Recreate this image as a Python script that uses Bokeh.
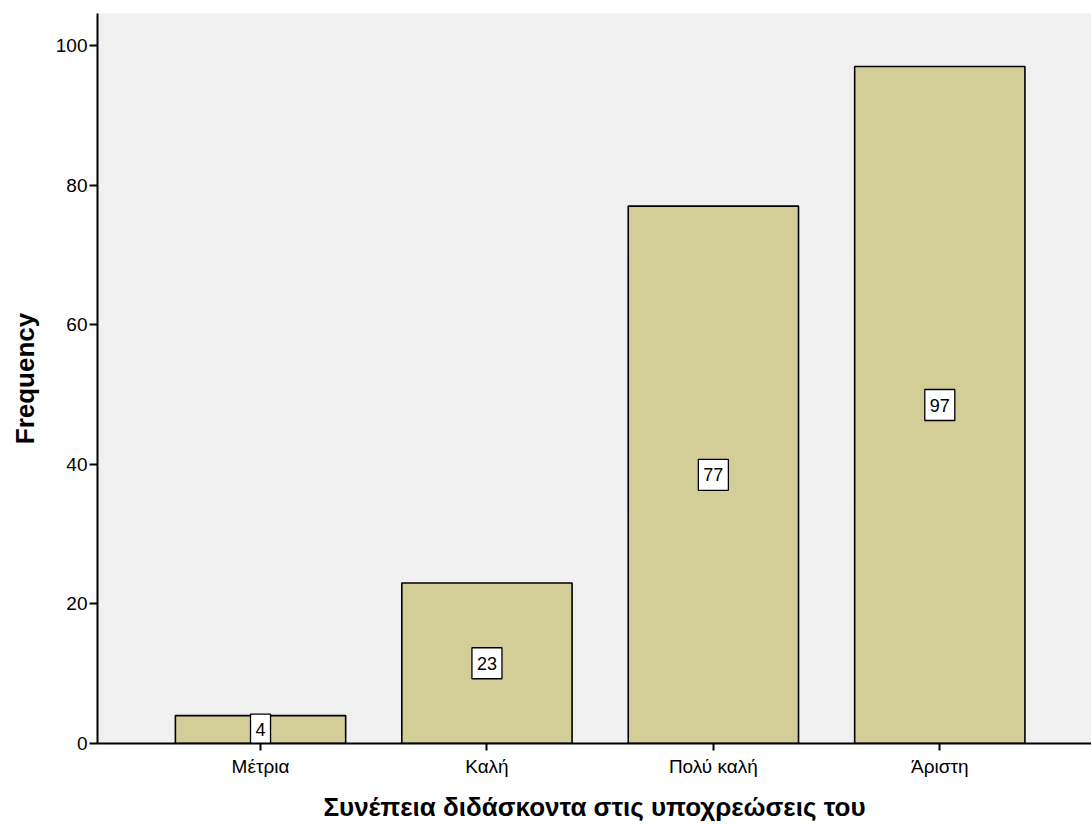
from bokeh.plotting import figure
from bokeh.models import ColumnDataSource, FixedTicker, Range1d
from bokeh.core.properties import value
from bokeh.embed import file_html
from bokeh.resources import INLINE

categories = ["Μέτρια", "Καλή", "Πολύ καλή", "Άριστη"]
frequencies = [4, 23, 77, 97]
y_ticks = [0, 20, 40, 60, 80, 100]

xs = list(range(1, len(categories) + 1))
src = ColumnDataSource(dict(
    x=xs,
    top=frequencies,
    mid=[f / 2 for f in frequencies],
    lab=[str(f) for f in frequencies],
))

FONT = "Liberation Sans"

p = figure(width=1091, height=825, output_backend="svg", toolbar_location=None,
           x_range=Range1d(0.28, 4.67), y_range=Range1d(0, 104.6),
           min_border_left=97, min_border_top=13, min_border_right=0, min_border_bottom=82)
p.background_fill_color = "#F0F0F0"
p.border_fill_color = "white"
p.outline_line_color = None
p.grid.visible = False

p.vbar(x="x", top="top", bottom=0, width=0.752, source=src,
       fill_color="#D3CE97", line_color="black", line_width=1.6)

p.text(x="x", y="mid", text="lab", source=src,
       text_font=value(FONT), text_font_size="18px", text_color="black",
       text_align="center", text_baseline="middle",
       background_fill_color="white", border_line_color="black", border_line_width=1.3,
       padding=dict(left=5, right=5, top=9, bottom=9))

for ax in (p.xaxis[0], p.yaxis[0]):
    ax.minor_tick_line_color = None
    ax.major_tick_in = 0
    ax.major_tick_line_width = 2
    ax.major_tick_line_color = "black"
    ax.axis_line_width = 2
    ax.axis_line_color = "black"
    ax.major_label_text_font = FONT
    ax.major_label_text_font_size = "19px"
    ax.major_label_text_color = "black"
    ax.axis_label_text_font = FONT
    ax.axis_label_text_font_style = "bold"
    ax.axis_label_text_font_size = "26px"
    ax.axis_label_text_color = "black"

xa = p.xaxis[0]
xa.ticker = FixedTicker(ticks=xs)
xa.major_label_overrides = {x: c for x, c in zip(xs, categories)}
xa.major_tick_out = 7
xa.major_label_standoff = 5
xa.axis_label = "Συνέπεια διδάσκοντα στις υποχρεώσεις του"
xa.axis_label_standoff = 12

ya = p.yaxis[0]
ya.ticker = FixedTicker(ticks=y_ticks)
ya.major_tick_out = 8
ya.major_label_standoff = 2
ya.axis_label = "Frequency"
ya.axis_label_standoff = 13

open("out.html", "w").write(file_html(p, INLINE))
